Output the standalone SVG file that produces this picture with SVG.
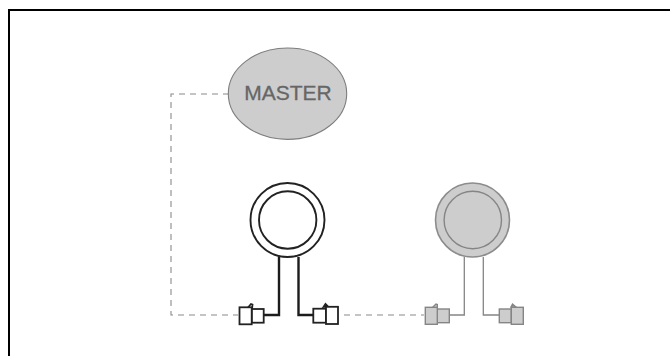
<svg xmlns="http://www.w3.org/2000/svg" width="670" height="356" viewBox="0 0 670 356">
<style>
.dash{fill:none;stroke:#8a8a8a;stroke-width:1.100;stroke-dasharray:6 5}
.blk{fill:none;stroke:#1c1c1c;stroke-width:2.400}
.gry{fill:none;stroke:#858585;stroke-width:1.300}
.cw{fill:#fff;stroke:#222;stroke-width:1.800}
.cg{fill:#cdcdcd;stroke:#858585;stroke-width:1.400}
</style>
<rect x="0" y="0" width="670" height="356" fill="#fff"/>
<path d="M9 356V10H670" fill="none" stroke="#000" stroke-width="2"/>
<g id="connectors">
<path class="dash" d="M229 94H171V315H238"/>
<path class="dash" d="M344 315H424"/>
<path class="blk" d="M264 315H279V257"/>
<path class="blk" d="M313 315H298.500V257"/>
<path class="gry" d="M450 315H464.300V257"/>
<path class="gry" d="M499 315H483.300V257"/>
</g>
<g id="master">
<ellipse cx="287.500" cy="93.700" rx="59.200" ry="45.700" fill="#cdcdcd" stroke="#7d7d7d" stroke-width="1.100"/>
<text x="288" y="100.300" text-anchor="middle" font-family="Liberation Sans, Arial, sans-serif" font-size="21" fill="#666" stroke="#666" stroke-width="0.300">MASTER</text>
</g>
<g id="ring-white">
<circle cx="287.500" cy="220" r="37" fill="#fff" stroke="#222" stroke-width="1.900"/>
<circle cx="287.700" cy="220" r="28.700" fill="#fff" stroke="#222" stroke-width="1.900"/>
</g>
<g id="ring-grey">
<circle cx="472.500" cy="220" r="37" fill="#cdcdcd" stroke="#8c8c8c" stroke-width="1.600"/>
<circle cx="472.800" cy="220" r="28.700" fill="#cdcdcd" stroke="#858585" stroke-width="1.400"/>
</g>
<g id="plug-1">
<path class="cw" d="M248 307.500L251 304L252.500 304.500L252 309Z"/>
<rect class="cw" x="251.700" y="309" width="12" height="13.700"/>
<rect class="cw" x="239.500" y="307.300" width="12.200" height="17"/>
</g>
<g id="plug-2">
<path class="cw" d="M323.500 307L325.500 304L328 306.500Z"/>
<rect class="cw" x="313.300" y="308.700" width="12.700" height="14"/>
<rect class="cw" x="326" y="306.800" width="12" height="17.200"/>
</g>
<g id="plug-3">
<path class="cg" d="M432.500 307.500L436 304L437.300 304.500L437.300 309Z"/>
<rect class="cg" x="437.300" y="309" width="12" height="13.700"/>
<rect class="cg" x="425.300" y="307.300" width="12" height="17"/>
</g>
<g id="plug-4">
<path class="cg" d="M511 307L512.500 304L516 307Z"/>
<rect class="cg" x="499.300" y="309" width="12" height="13.700"/>
<rect class="cg" x="511.300" y="307.300" width="12" height="17"/>
</g>
</svg>
